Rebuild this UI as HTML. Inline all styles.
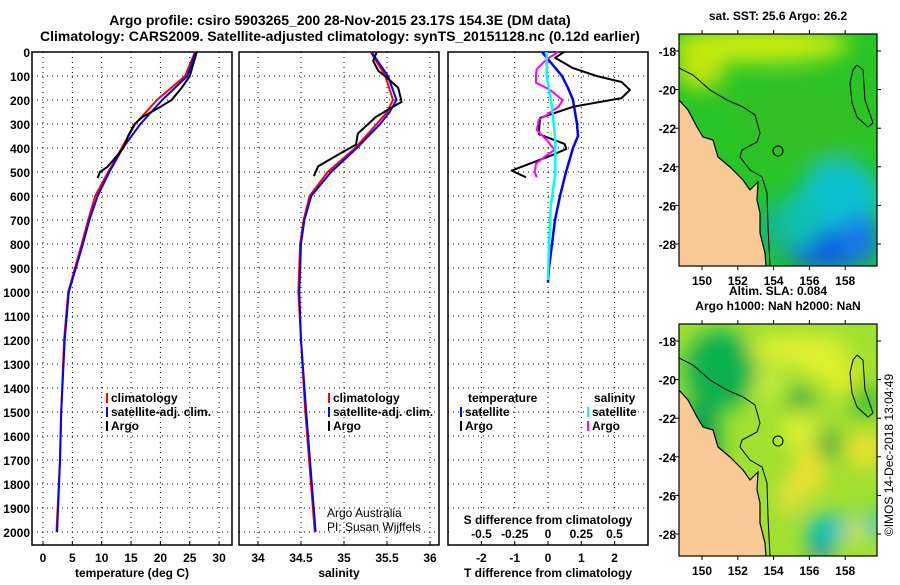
<!DOCTYPE html>
<html><head><meta charset="utf-8">
<style>
html,body{margin:0;padding:0;background:#fff;}
body{width:900px;height:580px;overflow:hidden;font-family:"Liberation Sans",sans-serif;}
svg text{font-family:"Liberation Sans",sans-serif;}
</style></head>
<body>
<svg id="chart" width="900" height="580" viewBox="0 0 900 580" xmlns="http://www.w3.org/2000/svg">
<defs>
<filter id="blur10" x="-50%" y="-50%" width="200%" height="200%"><feGaussianBlur stdDeviation="10"/></filter>
<clipPath id="clipTop"><rect x="679" y="34" width="198" height="232"/></clipPath>
<clipPath id="clipBot"><rect x="679" y="324" width="198" height="232"/></clipPath>
</defs>
<text x="340" y="25" text-anchor="middle" font-size="14" font-weight="bold">Argo profile: csiro 5903265_200 28-Nov-2015 23.17S 154.3E (DM data)</text>
<text x="340" y="41" text-anchor="middle" font-size="14" font-weight="bold">Climatology: CARS2009. Satellite-adjusted climatology: synTS_20151128.nc (0.12d earlier)</text>
<g id="panels"></g>
<g id="maps"></g>
<text transform="translate(893,455) rotate(-90)" text-anchor="middle" font-size="12">©IMOS 14-Dec-2018 13:04:49</text>
</svg>
<script>
// ---- data ----
const depthTicks = [0,100,200,300,400,500,600,700,800,900,1000,1100,1200,1300,1400,1500,1600,1700,1800,1900,2000];
const tempTicks = [0,5,10,15,20,25,30];
const salTicks = [34,34.5,35,35.5,36];
const salTickLabels = ["34","34.5","35","35.5","36"];
const tDiffTicks = [-2,-1,0,1,2];
const sDiffTicks = [-0.5,-0.25,0,0.25,0.5];
const sDiffTickLabels = ["-0.5","-0.25","0","0.25","0.5"];

const climDepth = [0,100,200,300,400,500,600,700,800,1000,1200,1500,1700,2000];
const tempClim = [25.9,24.2,19.4,15.7,13.4,11.1,8.9,7.7,6.6,4.3,3.6,3.1,2.9,2.3];
const tempSat = [26.0,24.6,20.3,16.6,13.6,11.3,9.3,7.9,6.8,4.4,3.7,3.1,2.9,2.4];
const argoDepth = [0,100,150,200,230,270,300,350,400,450,480,500,525];
const tempArgo = [26.2,25.0,23.6,21.9,19.9,17.0,15.6,14.5,13.7,12.0,10.9,9.7,9.3];

const salClimDepth = [0,100,200,250,300,400,500,600,700,800,1000,1200,1500,2000];
const salClim = [35.31,35.48,35.57,35.5,35.38,35.13,34.81,34.6,34.53,34.49,34.47,34.5,34.55,34.66];
const salSat = [35.32,35.51,35.61,35.53,35.42,35.15,34.85,34.62,34.54,34.5,34.48,34.5,34.56,34.67];
const salArgoDepth = [0,37,79,107,149,208,243,271,340,386,428,476,517];
const salArgo = [35.38,35.34,35.4,35.5,35.63,35.67,35.5,35.37,35.16,35.14,34.93,34.7,34.65];

const tDiffSatDepth = [0,100,150,200,300,350,400,500,600,700,800,900,960];
const tDiffSat = [-0.18,0.42,0.6,0.75,0.87,0.9,0.75,0.54,0.36,0.21,0.12,0.03,0.0];
const tDiffArgoDepth = [0,24,67,100,125,158,192,228,275,342,383,404,431,494,522];
const tDiffArgo = [0.48,0.21,0.75,1.46,2.21,2.46,2.21,0.76,-0.24,-0.28,0.5,0.55,0.1,-1.09,-0.66];
const sDiffArgoDepth = [0,30,72,93,128,158,200,228,262,283,325,367,408,430,465,500,522];
const sDiffArgo = [0.077,-0.01,-0.085,-0.09,-0.09,0.015,0.11,0.08,-0.01,-0.07,-0.085,-0.01,0.05,-0.01,-0.09,-0.1,-0.085];
const sDiffSatDepth = [0,100,228,367,506,644,783,922,950];
const sDiffSat = [-0.01,-0.01,0.03,0.055,0.055,0.02,0.01,0.0,0.0];

const mapLonTicks = [150,152,154,156,158];
const mapLatTicks = [-18,-20,-22,-24,-26,-28];

// ---- helpers ----
const NS = "http://www.w3.org/2000/svg";
function mk(tag, attrs, parent){const e=document.createElementNS(NS,tag);for(const k in attrs)e.setAttribute(k,attrs[k]);parent.appendChild(e);return e;}
const yD = d => 52 + d*0.24;
const panelsG = document.getElementById('panels');
const TOP=52, BOT=545;

function panel(name, x0, x1, xScale, ticks, labels, xTitle){
  const g = mk('g',{},panelsG);
  
  
  depthTicks.forEach(d=>{ if(d>0){ const l=mk('line',{x1:x0,x2:x1,y1:yD(d),y2:yD(d),stroke:'#000','stroke-width':1,'stroke-dasharray':'1,4'},g);
      }});
  ticks.forEach((t,i)=>{ const x=xScale(t);
    const l=mk('line',{x1:x,x2:x,y1:TOP,y2:BOT,stroke:'#000','stroke-width':1,'stroke-dasharray':'1,4'},g);
     
    mk('line',{x1:x,x2:x,y1:BOT,y2:BOT-4,stroke:'#000'},g);
    if(labels){ const t2=mk('text',{x:x,y:562,'text-anchor':'middle','font-size':12,'font-weight':'bold'},g); t2.textContent=labels[i];
        }
  });
  const r=mk('rect',{x:x0,y:TOP,width:x1-x0,height:BOT-TOP,fill:'none',stroke:'#000','stroke-width':1.5},g);
   
  if(xTitle){ const tt=mk('text',{x:(x0+x1)/2,y:577,'text-anchor':'middle','font-size':12,'font-weight':'bold'},g); tt.textContent=xTitle;
      }
  return g;
}
function line(g, name, xs, ds, xScale, color, w){
  const pts = xs.map((v,i)=>xScale(v).toFixed(1)+','+yD(ds[i]).toFixed(1)).join(' ');
  const p = mk('polyline',{points:pts,fill:'none',stroke:color,'stroke-width':w,'stroke-linejoin':'round'},g);
  
  
}
function legend(g, items, x, y0, dy){
  items.forEach((it,i)=>{ const y=y0+i*dy;
    mk('rect',{x:x,y:y-9,width:2,height:10,fill:it[1]},g);
    const t=mk('text',{x:x+5,y:y,'font-size':12,'font-weight':'bold'},g); t.textContent=it[0];
     
  });
}

depthTicks.forEach(d=>{ const t=mk('text',{x:30,y:yD(d)+5,'text-anchor':'end','font-size':12,'font-weight':'bold'},panelsG); t.textContent=d;
    });

const xT = v => 43 + v*5.87;
const g1 = panel('temperature-panel',32,232,xT,tempTicks,tempTicks.map(String),'temperature (deg C)');
line(g1,'temperature-climatology-line',tempClim,climDepth,xT,'#f00',2);
line(g1,'temperature-satellite-line',tempSat,climDepth,xT,'#00f',2);
line(g1,'temperature-argo-line',tempArgo,argoDepth,xT,'#000',2);
legend(g1,[['climatology','#f00'],['satellite-adj. clim.','#00f'],['Argo','#000']],106,402,14);

const xS = v => 301 + (v-34.5)*86;
const g2 = panel('salinity-panel',239,439,xS,salTicks,salTickLabels,'salinity');
line(g2,'salinity-climatology-line',salClim,salClimDepth,xS,'#f00',2);
line(g2,'salinity-satellite-line',salSat,salClimDepth,xS,'#00f',2);
line(g2,'salinity-argo-line',salArgo,salArgoDepth,xS,'#000',2);
legend(g2,[['climatology','#f00'],['satellite-adj. clim.','#00f'],['Argo','#000']],328,402,14);
const c1=mk('text',{x:327,y:517,'font-size':12},g2); c1.textContent='Argo Australia';
 
const c2=mk('text',{x:327,y:531,'font-size':12},g2); c2.textContent='PI: Susan Wijffels';
 

const xTD = v => 548 + v*33.3;
const xSD = v => 548 + v*133;
const g3 = panel('difference-panel',448,648,xTD,tDiffTicks,tDiffTicks.map(String),'T difference from climatology');
mk('rect',{x:452,y:510,width:192,height:30,fill:'#fff'},g3);
const st=mk('text',{x:548,y:524,'text-anchor':'middle','font-size':12,'font-weight':'bold'},g3); st.textContent='S difference from climatology';
 
sDiffTicks.forEach((v,i)=>{ const t=mk('text',{x:xSD(v),y:538,'text-anchor':'middle','font-size':12,'font-weight':'bold'},g3); t.textContent=sDiffTickLabels[i];
    });
line(g3,'t-diff-satellite-line',tDiffSat,tDiffSatDepth,xTD,'#00f',2.5);
line(g3,'t-diff-argo-line',tDiffArgo,tDiffArgoDepth,xTD,'#000',2);
line(g3,'s-diff-argo-line',sDiffArgo,sDiffArgoDepth,xSD,'#f0f',2);
line(g3,'s-diff-satellite-line',sDiffSat,sDiffSatDepth,xSD,'#0ff',2.5);
const lt=mk('text',{x:468,y:402,'font-size':12,'font-weight':'bold'},g3); lt.textContent='temperature';
 
const ls=mk('text',{x:594,y:402,'font-size':12,'font-weight':'bold'},g3); ls.textContent='salinity';
 
legend(g3,[['satellite','#00f'],['Argo','#000']],460,416,14);
legend(g3,[['satellite','#0ff'],['Argo','#f0f']],587,416,14);

// ---- maps ----
const mapsG = document.getElementById('maps');
const mLon = v => 702 + (v-150)*17.9;
const mLat = (v,oy) => oy + 17 + (-18 - v)*19.3;
const coast = [[679,100],[688,110],[697,127],[703,137],[713,140],[718,157],[730,167],[743,180],[750,190],[758,182],[757,200],[760,213],[760,233],[765,253],[766,266]];
const shelf = [[679,68],[693,75],[710,90],[727,100],[743,107],[755,115],[760,133],[757,142],[742,150],[740,157],[750,170],[762,177],[767,193],[768,227],[770,266]];
const reef = [[857,65],[863,70],[865,100],[873,123],[868,127],[857,117],[852,103],[850,83],[853,70],[857,65]];
function mapPanel(name, oy, clip, title, blobs, base){
  const g=mk('g',{},mapsG);
  
  
  title.forEach((t,i)=>{ const e=mk('text',{x:778,y:oy-14-(title.length-1-i)*15,'text-anchor':'middle','font-size':12,'font-weight':'bold'},g); e.textContent=t;
      });
  const cg=mk('g',{'clip-path':'url(#'+clip+')'},g);
  mk('rect',{x:679,y:oy,width:198,height:232,fill:base},cg);
  const bg=mk('g',{filter:'url(#blur10)'},cg);
  blobs.forEach(b=>mk('ellipse',{cx:b[0],cy:b[1]+oy-34,rx:b[2],ry:b[3],fill:b[4]},bg));
  const sh = v => v.map(p=>p[0]+','+(p[1]+oy-34)).join(' ');
  mk('polygon',{points:'679,'+(oy+232)+' '+sh(coast)+' 766,'+(oy+232),fill:'#f9c996'},cg);
  mk('polyline',{points:sh(coast),fill:'none',stroke:'#000','stroke-width':1.2},cg);
  mk('polyline',{points:sh(shelf),fill:'none',stroke:'#000','stroke-width':1},cg);
  mk('polyline',{points:sh(reef),fill:'none',stroke:'#000','stroke-width':1},cg);
  mk('circle',{cx:778,cy:151+oy-34,r:5,fill:'none',stroke:'#000'},cg);
  mk('rect',{x:679,y:oy,width:198,height:232,fill:'none',stroke:'#000','stroke-width':1.2},g);
  mapLonTicks.forEach(v=>{ const x=mLon(v);
    mk('line',{x1:x,x2:x,y1:oy,y2:oy-4,stroke:'#000'},g); mk('line',{x1:x,x2:x,y1:oy+232,y2:oy+236,stroke:'#000'},g);
    const t=mk('text',{x:x,y:oy+251,'text-anchor':'middle','font-size':12,'font-weight':'bold'},g); t.textContent=v;
      });
  mapLatTicks.forEach(v=>{ const y=mLat(v,oy);
    mk('line',{x1:679,x2:675,y1:y,y2:y,stroke:'#000'},g); mk('line',{x1:877,x2:881,y1:y,y2:y,stroke:'#000'},g);
    const t=mk('text',{x:676,y:y+5,'text-anchor':'end','font-size':12,'font-weight':'bold'},g); t.textContent=v;
      });
}
mapPanel('sst-map',34,'clipTop',['sat. SST: 25.6 Argo: 26.2'],[
  [760,45,90,18,'#c8ec10'],[700,70,25,20,'#c0e410'],[800,120,70,40,'#30c020'],
  [840,200,40,40,'#10c0d0'],[830,250,45,20,'#1060e0'],[860,240,20,25,'#1878e8'],
  [800,220,20,30,'#10c0b0'],[770,230,8,30,'#10b0a0']],'#28c428');
mapPanel('sla-map',324,'clipBot',['Altim. SLA: 0.084','Argo h1000: NaN h2000: NaN'],[
  [720,80,35,40,'#10b050'],[800,60,50,15,'#e0f030'],[770,95,15,15,'#c8ec40'],
  [820,75,20,14,'#e0f030'],[800,110,14,12,'#10a840'],[845,90,18,18,'#e0f028'],
  [865,110,14,20,'#30c030'],[825,155,15,15,'#10a840'],[865,160,18,18,'#f0e030'],
  [810,180,15,25,'#f0e030'],[790,205,10,20,'#f0e040'],[835,240,30,15,'#00c0c0'],
  [820,262,10,8,'#0060e0'],[855,242,12,10,'#e0e830'],[875,235,10,15,'#00c8c8'],
  [700,150,20,40,'#10a050'],[800,140,20,20,'#d8f030']],'#a0e030');
</script>
</body></html>
